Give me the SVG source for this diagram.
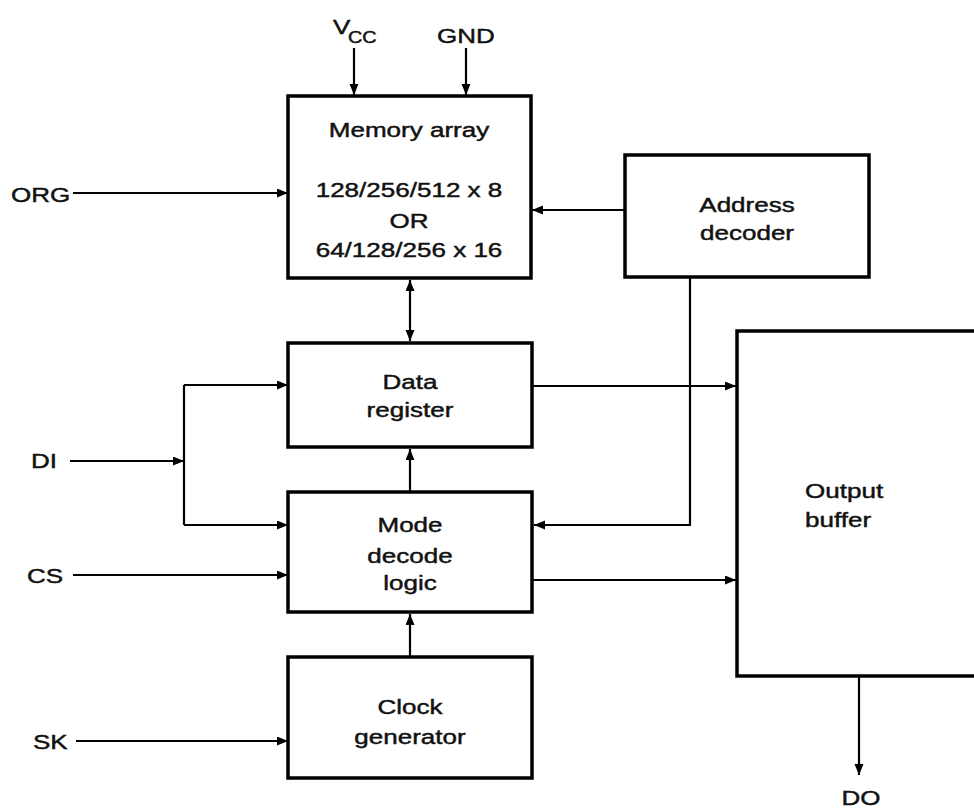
<svg xmlns="http://www.w3.org/2000/svg" width="974" height="808" viewBox="0 0 974 808">
<defs>
<marker id="ah" markerUnits="userSpaceOnUse" markerWidth="12" markerHeight="10" refX="11" refY="4.5" orient="auto-start-reverse">
<path d="M0,0 L11,4.5 L0,9 z" fill="#000"/>
</marker>
<style>
.box{fill:#fff;stroke:#000;stroke-width:3.5}
.ln{fill:none;stroke:#000;stroke-width:2.2}
.t{font-family:"Liberation Sans",Arial,Helvetica,sans-serif;font-size:21px;fill:#111;stroke:#111;stroke-width:0.45}
.c{text-anchor:middle}
</style>
</defs>
<rect width="974" height="808" fill="#fff"/>

<g id="connectors">
<path class="ln" d="M354,48 V95" marker-end="url(#ah)"/>
<path class="ln" d="M466,48 V95" marker-end="url(#ah)"/>
<path class="ln" d="M73,193 H288" marker-end="url(#ah)"/>
<path class="ln" d="M625,210 H532" marker-end="url(#ah)"/>
<path class="ln" d="M410,280 V341" marker-start="url(#ah)" marker-end="url(#ah)"/>
<path class="ln" d="M70,461 H184" marker-end="url(#ah)"/>
<path class="ln" d="M184,385 V525"/>
<path class="ln" d="M184,385 H288" marker-end="url(#ah)"/>
<path class="ln" d="M184,525 H288" marker-end="url(#ah)"/>
<path class="ln" d="M73,575 H288" marker-end="url(#ah)"/>
<path class="ln" d="M76,741 H288" marker-end="url(#ah)"/>
<path class="ln" d="M410,492 V449" marker-end="url(#ah)"/>
<path class="ln" d="M410,657 V614" marker-end="url(#ah)"/>
<path class="ln" d="M533,386 H736" marker-end="url(#ah)"/>
<path class="ln" d="M533,580 H736" marker-end="url(#ah)"/>
<path class="ln" d="M690,277 V525 H534" marker-end="url(#ah)"/>
<path class="ln" d="M859,676 V775" marker-end="url(#ah)"/>
</g>

<g id="memory-array">
<rect class="box" x="288" y="96" width="243" height="182"/>
<text class="t c" transform="translate(409,137) scale(1.24,1)">Memory array</text>
<text class="t c" transform="translate(409,197) scale(1.24,1)">128/256/512 x 8</text>
<text class="t c" transform="translate(409,228) scale(1.24,1)">OR</text>
<text class="t c" transform="translate(409,257) scale(1.24,1)">64/128/256 x 16</text>
</g>

<g id="address-decoder">
<rect class="box" x="625" y="155" width="244" height="122"/>
<text class="t c" transform="translate(747,212) scale(1.24,1)">Address</text>
<text class="t c" transform="translate(747,240) scale(1.24,1)">decoder</text>
</g>

<g id="data-register">
<rect class="box" x="288" y="343" width="244" height="104"/>
<text class="t c" transform="translate(410,389) scale(1.24,1)">Data</text>
<text class="t c" transform="translate(410,417) scale(1.24,1)">register</text>
</g>

<g id="mode-decode-logic">
<rect class="box" x="288" y="492" width="244" height="120"/>
<text class="t c" transform="translate(410,532) scale(1.24,1)">Mode</text>
<text class="t c" transform="translate(410,563) scale(1.24,1)">decode</text>
<text class="t c" transform="translate(410,590) scale(1.24,1)">logic</text>
</g>

<g id="clock-generator">
<rect class="box" x="288" y="657" width="244" height="121"/>
<text class="t c" transform="translate(410,714) scale(1.24,1)">Clock</text>
<text class="t c" transform="translate(410,744) scale(1.24,1)">generator</text>
</g>

<g id="output-buffer">
<rect class="box" x="737" y="331" width="260" height="345"/>
<text class="t" transform="translate(805,498) scale(1.24,1)">Output</text>
<text class="t" transform="translate(805,527) scale(1.24,1)">buffer</text>
</g>

<g id="labels">
<text class="t" transform="translate(333,34) scale(1.24,1)">V</text>
<text class="t" style="font-size:16px" transform="translate(348,43) scale(1.24,1)">CC</text>
<text class="t c" transform="translate(466,43) scale(1.24,1)">GND</text>
<text class="t" transform="translate(11,202) scale(1.24,1)">ORG</text>
<text class="t" transform="translate(31,468) scale(1.24,1)">DI</text>
<text class="t" transform="translate(27,583) scale(1.24,1)">CS</text>
<text class="t" transform="translate(33,749) scale(1.24,1)">SK</text>
<text class="t c" transform="translate(861,805) scale(1.24,1)">DO</text>
</g>
</svg>
